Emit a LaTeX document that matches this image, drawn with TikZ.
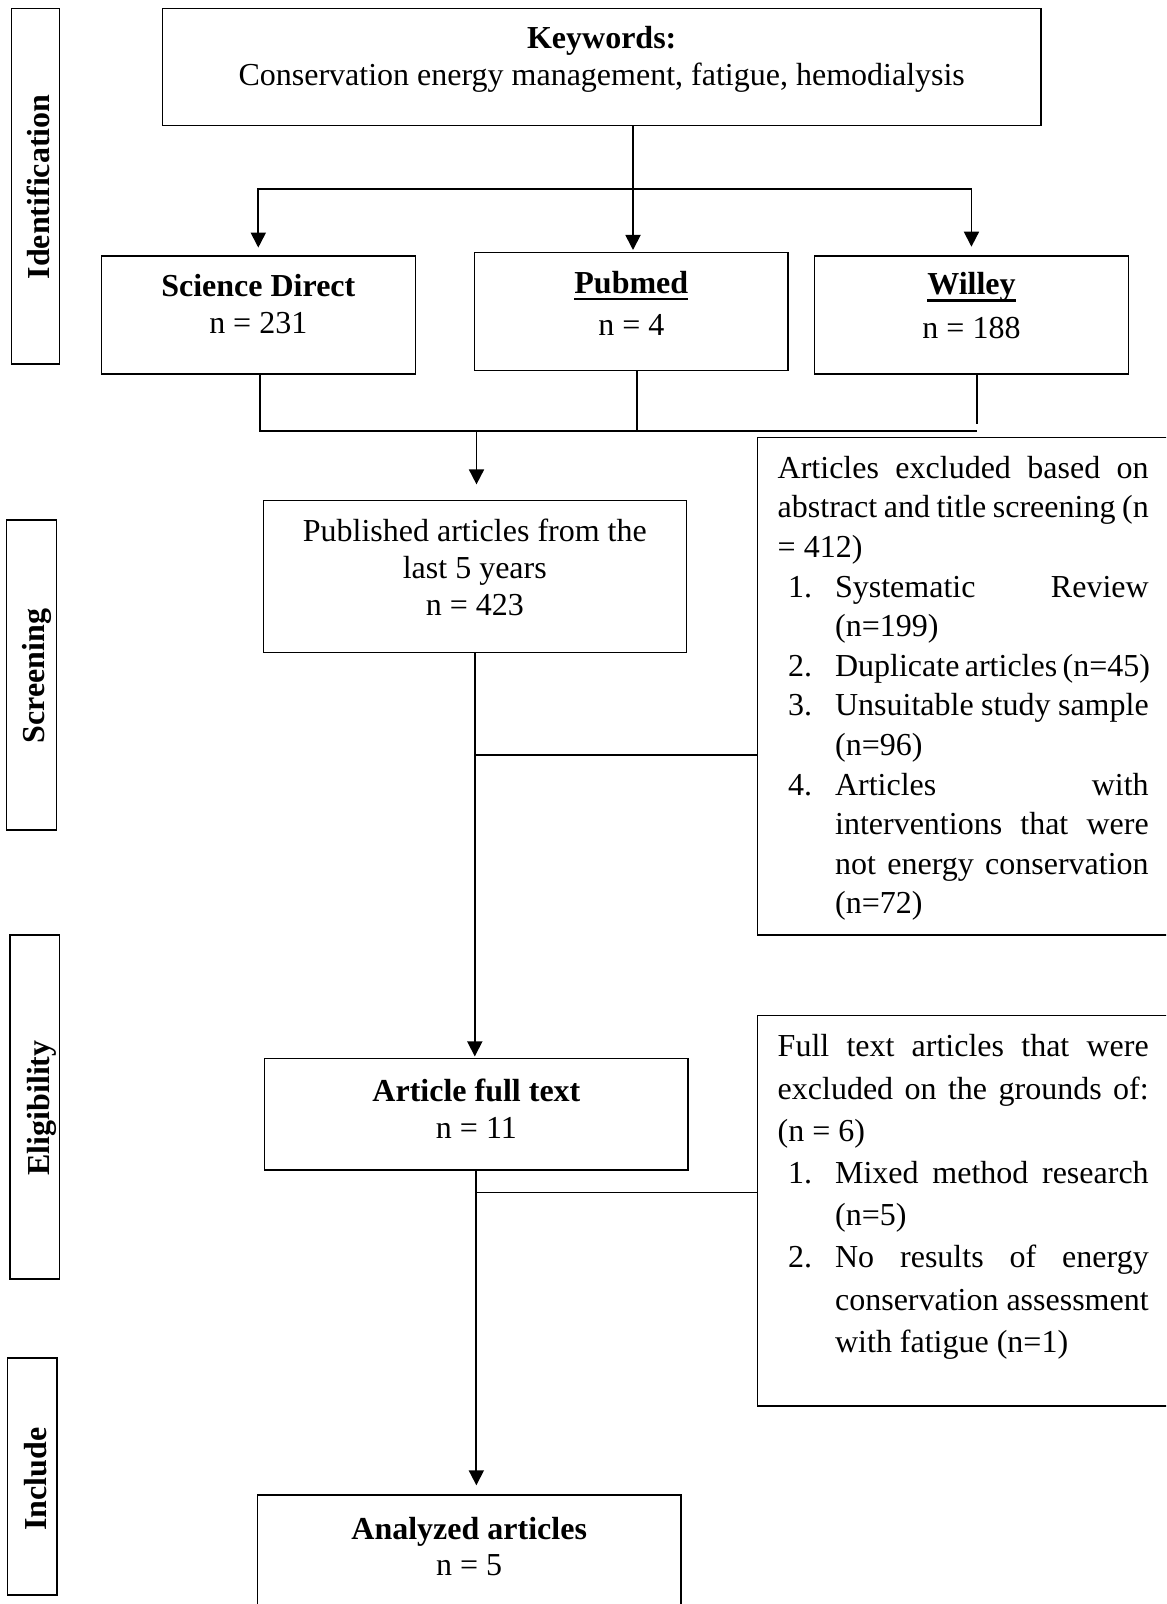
\documentclass[tikz,border=0pt]{standalone}
\usepackage{fontspec}
\setmainfont{Liberation Serif}
\usetikzlibrary{arrows.meta,calc}
\newcommand{\tstr}{\rule{0pt}{14pt}}
\newcommand{\myul}[1]{\setbox0\hbox{#1}\rlap{\rule[-3.6pt]{\wd0}{1.1pt}}\box0}
\newcommand{\itm}[2]{\par\noindent\hangindent=28.7pt\hangafter=1\hbox to 28.7pt{\hspace{5.2pt}#1\hfil}#2}
\begin{document}
\begin{tikzpicture}[x=0.5pt,y=-0.5pt,
  box/.style={draw, line width=0.7pt, inner sep=0pt},
  txt/.style={inner sep=0pt, align=center, anchor=north},
  ptxt/.style={inner sep=0pt, align=justify, anchor=north west, text width=185.5pt},
  side/.style={inner sep=0pt, rotate=90, anchor=base, font=\fontsize{16}{19}\selectfont\bfseries},
  conn/.style={line width=0.9pt},
  arr/.style={conn, -{Triangle[length=7.5pt,width=7.5pt]}}]
\useasboundingbox (0,0) rectangle (1166,1604);
\fill[white] (0,0) rectangle (1166,1604);
\clip (0,0) rectangle (1166,1604);

% side boxes
\node[box, minimum width=23.9pt, minimum height=177.85pt] (sId) at (35.4,186.15) {};
\node[box, minimum width=25.2pt, minimum height=155pt] (sSc) at (31.5,675) {};
\node[box, minimum width=24.8pt, minimum height=172pt] (sEl) at (34.6,1107) {};
\node[box, minimum width=24.7pt, minimum height=118.5pt] (sIn) at (32.3,1476.5) {};
\node[side] (lId) at (49.5,187) {Identification};
\node[side] (lSc) at (44,676) {Screening};
\node[side] (lEl) at (49.5,1108) {Eligibility};
\node[side] (lIn) at (46,1479) {Include};

% main boxes
\node[box, minimum width=439.1pt, minimum height=58.7pt] (kw) at (601.7,67) {};
\node[box, minimum width=156.9pt, minimum height=59pt] (sd) at (258.3,315) {};
\node[box, minimum width=156.75pt, minimum height=59.2pt] (pub) at (631.35,311.5) {};
\node[box, minimum width=156.75pt, minimum height=59pt] (wil) at (971.45,315) {};
\node[box, minimum width=211.4pt, minimum height=75.8pt] (pa) at (474.8,576.5) {};
\node[box, minimum width=211.65pt, minimum height=55.75pt] (ft) at (476.35,1114.25) {};
\node[box, minimum width=211.6pt, minimum height=65pt] (an) at (469.2,1560) {};
\node[box, minimum width=213.85pt, minimum height=248.85pt] (ex1) at (971.15,686.15) {};
\node[box, minimum width=213.85pt, minimum height=195.15pt] (ex2) at (971.15,1210.85) {};

% texts
\node[txt, font=\fontsize{16}{18.35}\selectfont] (kwt) at (601.7,20.3)
  {\tstr\textbf{Keywords:}\\Conservation energy management, fatigue, hemodialysis};
\node[txt, font=\fontsize{16}{18.65}\selectfont] (sdt) at (258.3,268)
  {\tstr\textbf{Science Direct}\\n = 231};
\node[txt, font=\fontsize{16}{21.15}\selectfont] (pubt) at (631.3,264.7)
  {\tstr\textbf{\myul{Pubmed}}\\n = 4};
\node[txt, font=\fontsize{16}{22}\selectfont] (wilt) at (971.5,266)
  {\tstr\textbf{\myul{Willey}}\\n = 188};
\node[txt, font=\fontsize{16}{18.4}\selectfont] (pat) at (474.8,513.5)
  {\tstr Published articles from the\\last 5 years\\n = 423};
\node[txt, font=\fontsize{16}{18.5}\selectfont] (ftt) at (476.4,1073)
  {\tstr\textbf{Article full text}\\n = 11};
\node[txt, font=\fontsize{16}{18.1}\selectfont] (ant) at (469.2,1511)
  {\tstr\textbf{Analyzed articles}\\n = 5};

\node[ptxt, font=\fontsize{16}{19.8}\selectfont] (ex1t) at (777.3,449.8)
  {\parindent=0pt\hyphenpenalty=10000\tolerance=10000\tstr Articles excluded based on\linebreak abstract and title screening (n\linebreak = 412)
   \itm{1.}{Systematic Review\linebreak (n=199)}
   \itm{2.}{Duplicate~articles~(n=45)}
   \itm{3.}{Unsuitable study sample\linebreak (n=96)}
   \itm{4.}{Articles with\linebreak interventions that were\linebreak not energy conservation\linebreak (n=72)}\par};
\node[ptxt, font=\fontsize{16}{21.1}\selectfont] (ex2t) at (777.3,1028.5)
  {\parindent=0pt\hyphenpenalty=10000\tolerance=10000\tstr Full text articles that were\linebreak excluded on the grounds of:\linebreak (n = 6)
   \itm{1.}{Mixed method research\linebreak (n=5)}
   \itm{2.}{No results of energy\linebreak conservation assessment\linebreak with fatigue (n=1)}\par};

% connectors
\coordinate (jt) at (633,189);
\draw[conn] (kw.south -| jt) -- (jt);
\draw[arr, shorten >=0.8pt] (jt) -- (pub.north -| jt);
\draw[arr, shorten >=3.85pt] (jt) -| (sd.north);
\draw[arr, shorten >=4.3pt] (jt) -| (wil.north);

\coordinate (cl) at (260.2,431);
\coordinate (cm) at (636.8,431);
\coordinate (cr) at (977,431);
\coordinate (cb) at (476.5,431);
\draw[conn] (sd.south -| cl) -- (cl) -- (cr);
\draw[conn] (pub.south -| cm) -- (cm);
\draw[conn] (wil.south -| cr) -- ($(cr)+(0,-7)$);
\draw[arr, shorten >=7.8pt] (cb) -- (pa.north -| cb);

\draw[arr, shorten >=0.7pt] (pa.south) -- (pa.south |- ft.north);
\coordinate (b1) at (474.8,755);
\draw[conn] (b1) -- (ex1.west |- b1);
\draw[arr, shorten >=4.5pt] (ft.south) -- (ft.south |- an.north);
\coordinate (b2) at (476.35,1192.5);
\draw[conn] (b2) -- (ex2.west |- b2);
\end{tikzpicture}
\end{document}
